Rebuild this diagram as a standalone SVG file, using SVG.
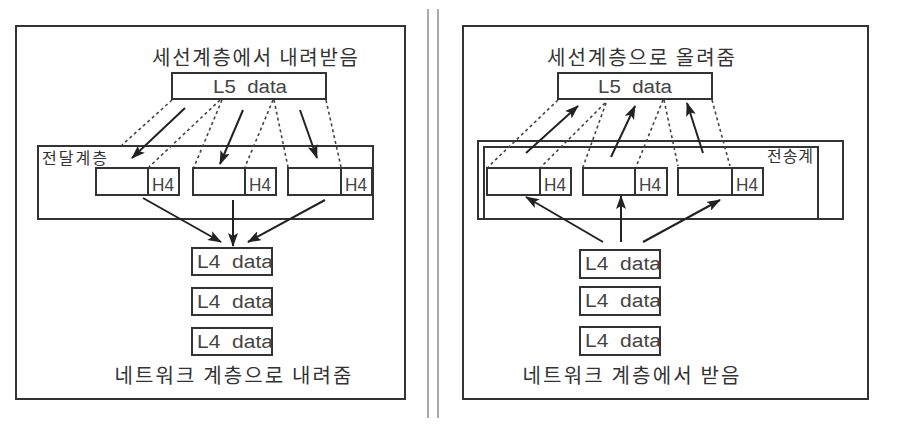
<svg xmlns="http://www.w3.org/2000/svg" width="900" height="432" viewBox="0 0 900 432">
<defs>
<marker id="ah" markerUnits="userSpaceOnUse" markerWidth="14" markerHeight="10" refX="13" refY="5" orient="auto">
<path d="M0,0 L14,5 L0,10 L3,5 Z" fill="#222"/>
</marker>
<style>
.box{fill:#fff;stroke:#333;stroke-width:2}
.ln{fill:none;stroke:#333;stroke-width:2}
.dot{fill:none;stroke:#444;stroke-width:1.6;stroke-dasharray:3 3}
.arr{fill:none;stroke:#222;stroke-width:2;marker-end:url(#ah)}
.ko{font-family:"Noto Sans CJK KR","Noto Sans",sans-serif;fill:#333}
.en{font-family:"Liberation Sans",Arial,sans-serif;fill:#444;font-size:18px;white-space:pre}
.div{stroke:#aaa;stroke-width:2}
</style>
</defs>
<rect width="900" height="432" fill="#fff"/>
<line class="div" x1="428" y1="9" x2="428" y2="418"/>
<line class="div" x1="438" y1="9" x2="438" y2="418"/>

<!-- LEFT PANEL -->
<g id="left-panel">
<rect class="box" x="16" y="26" width="389" height="373"/>
<text class="ko" x="255" y="65" font-size="20" text-anchor="middle" textLength="206">세선계층에서 내려받음</text>
<text class="ko" x="233" y="383" font-size="20" text-anchor="middle" textLength="237">네트워크 계층으로 내려줌</text>
</g>
<g id="left-transport">
<rect class="box" x="38" y="146" width="335" height="73"/>
<text class="ko" x="42" y="164" font-size="16" textLength="65">전달계층</text>
</g>
<g id="left-l5">
<rect class="box" x="172" y="73" width="154" height="26"/>
<text class="en" x="250" y="93" text-anchor="middle" textLength="74" lengthAdjust="spacingAndGlyphs">L5  data</text>
</g>
<g id="left-seg1">
<rect class="box" x="96" y="168" width="83" height="27"/>
<line class="ln" x1="148" y1="168" x2="148" y2="195"/>
<text class="en" x="152" y="191" textLength="22" lengthAdjust="spacingAndGlyphs">H4</text>
</g>
<g id="left-seg2">
<rect class="box" x="193" y="168" width="83" height="27"/>
<line class="ln" x1="245" y1="168" x2="245" y2="195"/>
<text class="en" x="249" y="191" textLength="22" lengthAdjust="spacingAndGlyphs">H4</text>
</g>
<g id="left-seg3">
<rect class="box" x="288" y="168" width="84" height="27"/>
<line class="ln" x1="341" y1="168" x2="341" y2="195"/>
<text class="en" x="345" y="191" textLength="22" lengthAdjust="spacingAndGlyphs">H4</text>
</g>
<g id="left-l4-1">
<rect class="box" x="192" y="248" width="80" height="27"/>
<text class="en" x="197" y="268" textLength="76" lengthAdjust="spacingAndGlyphs">L4  data</text>
</g>
<g id="left-l4-2">
<rect class="box" x="192" y="288" width="80" height="27"/>
<text class="en" x="197" y="308" textLength="76" lengthAdjust="spacingAndGlyphs">L4  data</text>
</g>
<g id="left-l4-3">
<rect class="box" x="192" y="328" width="80" height="27"/>
<text class="en" x="197" y="348" textLength="76" lengthAdjust="spacingAndGlyphs">L4  data</text>
</g>

<!-- RIGHT PANEL -->
<g id="right-panel">
<rect class="box" x="463" y="26" width="405" height="373"/>
<text class="ko" x="641" y="65" font-size="20" text-anchor="middle" textLength="188">세선계층으로 올려줌</text>
<text class="ko" x="631" y="383" font-size="20" text-anchor="middle" textLength="217">네트워크 계층에서 받음</text>
</g>
<g id="right-transport">
<rect class="box" x="478" y="141" width="365" height="78"/>
<polyline class="ln" points="484,219 484,147 818,147 818,219"/>
<text class="ko" x="767" y="162" font-size="16" textLength="46">전송계</text>
</g>
<g id="right-l5">
<rect class="box" x="558" y="73" width="154" height="26"/>
<text class="en" x="635" y="93" text-anchor="middle" textLength="74" lengthAdjust="spacingAndGlyphs">L5  data</text>
</g>
<g id="right-seg1">
<rect class="box" x="487" y="168" width="84" height="27"/>
<line class="ln" x1="540" y1="168" x2="540" y2="195"/>
<text class="en" x="544" y="191" textLength="22" lengthAdjust="spacingAndGlyphs">H4</text>
</g>
<g id="right-seg2">
<rect class="box" x="583" y="168" width="84" height="27"/>
<line class="ln" x1="635" y1="168" x2="635" y2="195"/>
<text class="en" x="639" y="191" textLength="22" lengthAdjust="spacingAndGlyphs">H4</text>
</g>
<g id="right-seg3">
<rect class="box" x="678" y="168" width="85" height="27"/>
<line class="ln" x1="732" y1="168" x2="732" y2="195"/>
<text class="en" x="736" y="191" textLength="22" lengthAdjust="spacingAndGlyphs">H4</text>
</g>
<g id="right-l4-1">
<rect class="box" x="580" y="250" width="80" height="28"/>
<text class="en" x="585" y="270" textLength="76" lengthAdjust="spacingAndGlyphs">L4  data</text>
</g>
<g id="right-l4-2">
<rect class="box" x="580" y="287" width="80" height="28"/>
<text class="en" x="585" y="307" textLength="76" lengthAdjust="spacingAndGlyphs">L4  data</text>
</g>
<g id="right-l4-3">
<rect class="box" x="580" y="327" width="80" height="28"/>
<text class="en" x="585" y="347" textLength="76" lengthAdjust="spacingAndGlyphs">L4  data</text>
</g>

<g id="connectors">
<line class="dot" x1="172" y1="100" x2="122" y2="145"/>
<line class="dot" x1="220" y1="100" x2="149" y2="167"/>
<line class="dot" x1="222" y1="100" x2="194" y2="167"/>
<line class="dot" x1="273" y1="100" x2="245" y2="167"/>
<line class="dot" x1="274" y1="100" x2="288" y2="167"/>
<line class="dot" x1="326" y1="100" x2="341" y2="167"/>
<line class="arr" x1="185" y1="108" x2="132" y2="158"/>
<line class="arr" x1="243" y1="110" x2="220" y2="164"/>
<line class="arr" x1="300" y1="110" x2="317" y2="158"/>
<line class="arr" x1="143" y1="198" x2="221" y2="242"/>
<line class="arr" x1="233" y1="200" x2="233" y2="246"/>
<line class="arr" x1="325" y1="200" x2="248" y2="242"/>
<line class="dot" x1="558" y1="100" x2="488" y2="167"/>
<line class="dot" x1="605" y1="103" x2="541" y2="167"/>
<line class="dot" x1="606" y1="103" x2="583" y2="167"/>
<line class="dot" x1="663" y1="100" x2="636" y2="167"/>
<line class="dot" x1="664" y1="100" x2="678" y2="166"/>
<line class="dot" x1="712" y1="100" x2="730" y2="166"/>
<line class="arr" x1="526" y1="153" x2="578" y2="106"/>
<line class="arr" x1="611" y1="157" x2="635" y2="106"/>
<line class="arr" x1="703" y1="153" x2="687" y2="103"/>
<line class="arr" x1="603" y1="242" x2="526" y2="197"/>
<line class="arr" x1="621" y1="242" x2="621" y2="196"/>
<line class="arr" x1="643" y1="242" x2="720" y2="200"/>
</g>
</svg>
